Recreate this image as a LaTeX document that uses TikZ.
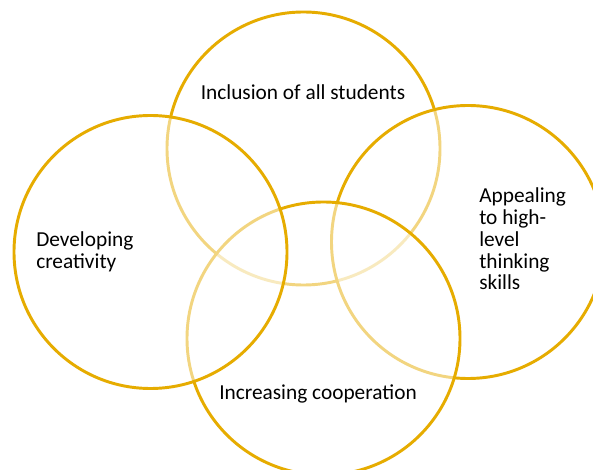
\documentclass[tikz,border=0pt]{standalone}
\usepackage{fontspec}
\setmainfont{Carlito}
\definecolor{petalgold}{RGB}{230,172,0}
\tikzset{
  petal/.style={circle, draw=petalgold, line width=2.2pt, fill=white, fill opacity=0.5, minimum size=204.75pt, inner sep=0pt},
  caption/.style={text=black, font=\fontsize{16}{16.3}\selectfont, inner sep=0pt}
}
\begin{document}
\begin{tikzpicture}[x=0.75pt, y=-0.75pt]
	\clip (0,0) rectangle (593,470);
	\fill[white] (0,0) rectangle (593,470);

	\node[petal] (inclusion) at (303.5,148.5) {};
	\node[petal] (thinking) at (468,242) {};
	\node[petal] (cooperation) at (323.5,338.5) {};
	\node[petal] (creativity) at (150.5,252) {};

	\node[caption] (inclusiontext) at (303,92) {Inclusion of all students};
	\node[caption, align=left, anchor=west] (creativitytext) at (36,252) {Developing\\creativity};
	\node[caption, align=left, anchor=west] (thinkingtext) at (479,239) {Appealing\\to high-\\level\\thinking\\skills};
	\node[caption] (cooperationtext) at (318,394) {Increasing cooperation};
\end{tikzpicture}
\end{document}
